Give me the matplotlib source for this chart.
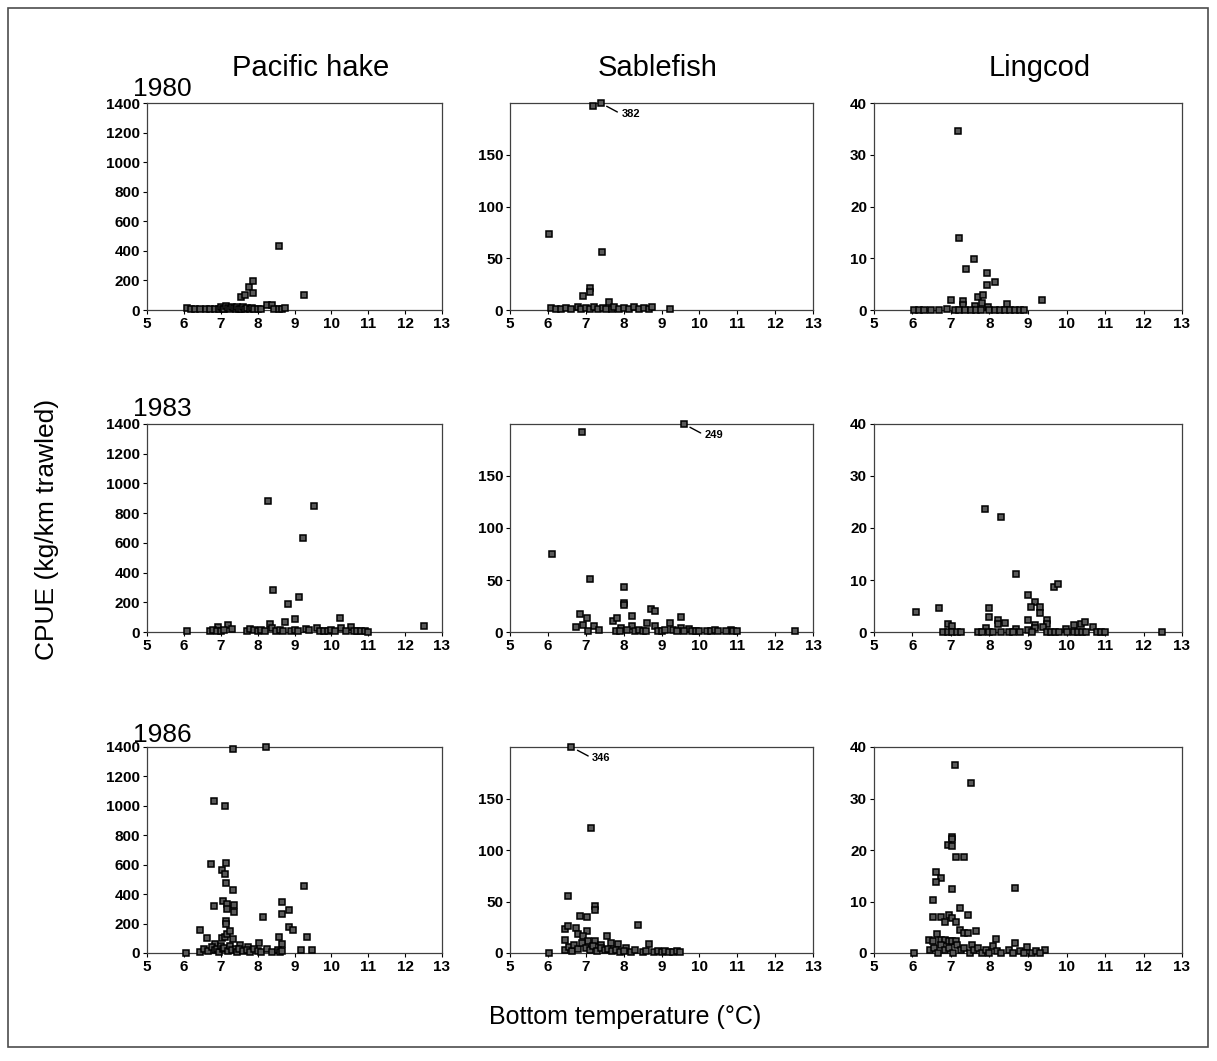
import numpy as np
import matplotlib
matplotlib.use('Agg')
import matplotlib.pyplot as plt
from matplotlib.patches import Rectangle

plt.rcParams['font.family'] = ['Liberation Sans', 'DejaVu Sans']

# Species / years
species = ['Pacific hake', 'Sablefish', 'Lingcod']
years = ['1980', '1983', '1986']

# Bottom temperature (C) and CPUE (kg/km trawled), one pair of lists per panel
# ---- 1980 ----
hake80_t = [6.08, 6.2, 6.3, 6.45, 6.6, 6.7, 6.85, 6.95, 7.0, 7.05, 7.1, 7.15, 7.2, 7.25, 7.3,
            7.35, 7.4, 7.45, 7.5, 7.55, 7.6, 7.65, 7.7, 7.8, 7.85, 7.9, 8.0, 8.1, 8.25, 8.39,
            8.45, 8.57, 8.65, 8.75, 7.56, 7.67, 7.76, 7.87, 7.88, 8.57, 9.27]
hake80_c = [12, 5, 4, 4, 4, 4, 4, 8, 20, 10, 4, 25, 15, 8, 22,
            12, 4, 18, 8, 4, 20, 5, 12, 8, 15, 4, 6, 4, 34, 34,
            8, 10, 4, 15, 86, 102, 154, 195, 115, 433, 102]

sable80_t = [6.03, 7.2, 7.39, 7.42, 6.92, 7.12, 7.12, 7.62,
             6.09, 6.22, 6.35, 6.49, 6.62, 6.79, 6.88, 7.01, 7.1, 7.23, 7.32, 7.45, 7.53,
             7.7, 7.75, 7.88, 8.02, 8.15, 8.28, 8.41, 8.54, 8.67, 8.76, 9.22]
sable80_c = [73, 197, 382, 56, 14, 21, 17, 7.5,
             2, 1, 1, 2, 1, 3, 1, 2, 1, 3, 1, 2, 1,
             1, 3, 1, 2, 1, 3, 1, 2, 1, 3, 0.5]

ling80_t = [7.18, 7.2, 7.4, 7.61, 7.93, 7.93, 8.14, 7.0, 7.32, 7.32, 7.71, 7.82, 7.8, 7.62,
            7.96, 8.45, 9.37,
            6.04, 6.16, 6.29, 6.48, 6.69, 6.89, 7.1, 7.22, 7.36, 7.51, 7.64, 7.77, 7.99, 8.13,
            8.26, 8.39, 8.52, 8.65, 8.79, 8.9]
ling80_c = [34.5, 14, 7.9, 9.9, 7.2, 4.9, 5.5, 2.0, 1.8, 1.0, 2.5, 2.9, 1.4, 0.8,
            0.65, 1.1, 2.0,
            0, 0, 0, 0, 0, 0.1, 0, 0, 0, 0, 0, 0, 0, 0,
            0, 0, 0, 0, 0, 0]

# ---- 1983 ----
hake83_t = [6.09, 8.27, 9.52, 9.22, 8.43, 8.82, 9.13, 9.02, 8.73, 10.23, 12.52, 7.2, 6.93,
            8.34, 10.25, 10.54,
            6.7, 6.8, 6.9, 7.0, 7.1, 7.3, 7.7, 7.8, 7.9, 8.0, 8.1, 8.2, 8.4, 8.5, 8.6, 8.7,
            8.9, 9.0, 9.1, 9.3, 9.4, 9.6, 9.7, 9.8, 9.9, 10.0, 10.1, 10.4, 10.6, 10.7, 10.8,
            10.9, 11.0]
hake83_c = [5, 882, 848, 633, 281, 190, 235, 90, 70, 95, 38, 45, 32,
            54, 27, 36,
            5, 15, 10, 8, 12, 20, 10, 18, 12, 6, 15, 10, 25, 8, 12, 6,
            10, 15, 8, 18, 12, 25, 10, 8, 6, 12, 5, 8, 5, 4, 6,
            4, 3]

sable83_t = [6.91, 9.59, 6.12, 7.12, 8.02, 8.02, 8.02, 6.84, 7.03, 6.73, 6.94, 7.23, 7.34,
             7.71, 7.82, 8.22, 7.93, 8.23, 8.63, 8.73, 8.83, 8.83, 9.22, 9.52, 9.52, 9.72,
             10.84, 12.52,
             7.05, 7.8, 7.9, 8.1, 8.3, 8.4, 8.5, 8.6, 8.9, 9.0, 9.1, 9.3, 9.4, 9.6, 9.8, 9.9,
             10.0, 10.2, 10.3, 10.4, 10.5, 10.7, 10.9, 11.0]
sable83_c = [192.6, 249, 75, 51, 43, 28, 26, 17.5, 13, 4.5, 6.5, 5.5, 2.3,
             10.4, 13.6, 15.2, 4, 6, 8.8, 22, 20, 5.5, 8.4, 14.6, 4, 3,
             2.3, 0.6,
             0.5, 1, 0.5, 1.5, 0.5, 2, 1, 0.5, 1, 0.5, 1.5, 2, 1, 0.5, 1, 0.5,
             1, 0.5, 1, 2, 1, 0.5, 1, 0.5]

ling83_t = [6.1, 6.7, 7.89, 8.29, 8.69, 9.68, 9.78, 9.0, 9.19, 9.08, 9.3, 9.3, 7.99, 7.99,
            8.21, 8.21, 8.4, 9.0, 9.19, 9.19, 9.49, 9.49, 9.4, 10.19, 10.38, 10.48, 10.68,
            6.91, 7.02, 7.91, 8.69, 9.0, 9.98, 12.49,
            6.79, 6.91, 7.03, 7.15, 7.27, 7.7, 7.8, 8.0, 8.1, 8.3, 8.5, 8.6, 8.8, 9.1, 9.5,
            9.6, 9.7, 9.8, 10.0, 10.2, 10.3, 10.4, 10.5, 10.8, 10.9, 11.0]
ling83_c = [3.9, 4.7, 23.7, 22.1, 11.2, 8.7, 9.2, 7.1, 5.8, 4.9, 4.9, 3.6, 4.7, 2.8,
            2.4, 1.6, 1.75, 2.4, 1.4, 0.8, 2.4, 1.6, 1.0, 1.4, 1.6, 2.0, 1.0,
            1.6, 1.1, 0.8, 0.6, 0.45, 0.6, 0,
            0, 0, 0, 0, 0, 0, 0, 0, 0, 0, 0, 0, 0, 0, 0,
            0, 0, 0, 0, 0, 0, 0, 0, 0, 0, 0]

# ---- 1986 ----
hake86_t = [6.05, 7.32, 8.24, 6.82, 7.12, 6.73, 7.14, 7.03, 7.12, 7.14, 7.33, 9.27, 7.05,
            6.82, 7.16, 7.18, 7.35, 7.35, 8.65, 8.66, 8.85, 8.15, 8.85, 8.96, 7.14, 7.14,
            6.45, 6.64, 6.85, 7.03, 7.12, 7.16, 7.25, 7.32, 7.53, 7.75, 8.05, 8.57, 8.66,
            9.35, 9.18, 9.48,
            6.45, 6.55, 6.65, 6.75, 6.85, 6.9, 6.95, 7.0, 7.05, 7.1, 7.2, 7.25, 7.3, 7.4,
            7.45, 7.5, 7.6, 7.7, 7.8, 7.9, 8.0, 8.1, 8.25, 8.4, 8.55, 8.6, 8.65]
hake86_c = [0, 1386, 1398, 1033, 1002, 608, 612, 562, 539, 476, 426, 455, 353,
            319, 335, 300, 328, 278, 346, 266, 289, 248, 180, 153, 219, 198,
            153, 100, 61, 100, 107, 130, 152, 96, 57, 43, 66, 112, 61,
            112, 20, 20,
            10, 25, 15, 40, 20, 30, 10, 45, 25, 35, 15, 50, 20, 30,
            10, 25, 15, 20, 10, 30, 15, 5, 25, 10, 20, 5, 15]

sable86_t = [6.04, 6.62, 7.13, 6.53, 6.84, 7.04, 7.24, 7.24, 8.37, 6.46, 6.53, 6.75, 7.04,
             7.55, 7.66, 7.86, 8.68, 6.46, 6.8, 6.93, 7.06, 7.24, 7.39, 8.06,
             6.45, 6.55, 6.65, 6.7, 6.8, 6.9, 7.0, 7.1, 7.2, 7.3, 7.4, 7.5, 7.6, 7.7, 7.8,
             7.9, 8.0, 8.2, 8.3, 8.5, 8.6, 8.8, 8.9, 9.0, 9.1, 9.2, 9.3, 9.4, 9.5]
sable86_c = [0, 346, 121, 55, 36, 35, 46, 42, 27.5, 23.7, 26, 24, 21.7,
             16.9, 9.7, 9.0, 8.7, 12.3, 18.5, 16.2, 11.3, 11.3, 7.5, 4.9,
             3, 6, 2, 8, 4, 10, 5, 3, 7, 2, 5, 3, 4, 2, 3,
             1, 2, 1, 3, 1, 2, 1, 2, 1, 2, 1, 1, 2, 1]

ling86_t = [6.03, 7.11, 7.53, 7.03, 7.03, 6.92, 7.03, 7.12, 7.33, 6.62, 6.73, 6.62, 7.03,
            8.66, 6.53, 6.53, 6.73, 6.84, 6.94, 7.03, 7.14, 7.24, 7.45, 7.24, 7.34, 7.45,
            7.64, 6.64, 6.43, 6.53, 6.73, 6.84, 6.94, 7.03, 7.12, 8.16, 8.66, 7.55, 8.09,
            8.97, 9.45,
            6.45, 6.55, 6.65, 6.75, 6.85, 6.95, 7.05, 7.15, 7.25, 7.35, 7.5, 7.6, 7.7, 7.8,
            7.9, 8.0, 8.2, 8.3, 8.5, 8.6, 8.8, 8.9, 9.1, 9.2, 9.3]
ling86_c = [0, 36.6, 33, 22.6, 22.2, 21, 20.7, 18.7, 18.7, 15.8, 14.5, 13.8, 12.5,
            12.6, 10.3, 7.0, 7.0, 6.0, 7.35, 6.7, 6.0, 8.8, 7.35, 4.55, 3.8, 3.8,
            4.2, 3.6, 2.6, 2.4, 2.6, 2.6, 2.3, 2.3, 2.3, 2.8, 2.0, 1.6, 1.3,
            1.1, 0.6,
            0.5, 1, 0, 1.5, 0.5, 1, 0, 1.5, 0.5, 1, 0, 0.5, 1, 0,
            0.5, 0, 0.3, 0, 0.5, 0, 0.3, 0, 0, 0.3, 0]

panels = [[(hake80_t, hake80_c), (sable80_t, sable80_c), (ling80_t, ling80_c)],
          [(hake83_t, hake83_c), (sable83_t, sable83_c), (ling83_t, ling83_c)],
          [(hake86_t, hake86_c), (sable86_t, sable86_c), (ling86_t, ling86_c)]]

# y axis ranges / ticks per species
ymax = [1400, 200, 40]
yticks = [np.arange(0, 1401, 200), [0, 50, 100, 150], [0, 10, 20, 30, 40]]
xticks = np.arange(5, 14)

# Figure layout (pixel positions of the panels)
W, H = 1217, 1061
fig = plt.figure(figsize=(W / 100, H / 100), dpi=100)
col_l = [147, 510, 874]
col_r = [442, 813, 1182]
row_t = [103, 424, 747]
row_b = [310, 632, 953]

for i in range(3):
    for j in range(3):
        ax = fig.add_axes([col_l[j] / W, 1 - row_b[i] / H,
                           (col_r[j] - col_l[j]) / W, (row_b[i] - row_t[i]) / H])
        t, c = panels[i][j]
        c = np.array(c, dtype=float)
        top = ymax[j]
        ax.plot(t, np.minimum(c, top), ls='none', marker='s', ms=4.8,
                mfc='0.35', mec='k', mew=1.1, clip_on=False, zorder=3)
        # off-scale values are written next to the point
        for tt, cc in zip(t, c):
            if cc > top:
                ax.annotate(f'{cc:.0f}', xy=(tt, top), xytext=(15, -8),
                            textcoords='offset points', ha='left', va='center',
                            fontsize=8, fontweight='bold',
                            arrowprops=dict(arrowstyle='-', lw=1, color='k',
                                            shrinkA=1, shrinkB=5, relpos=(0, 0.5)))
        ax.set_xlim(5, 13)
        ax.set_ylim(0, top)
        ax.set_xticks(xticks)
        ax.set_yticks(yticks[j])
        ax.tick_params(labelsize=11, length=3, width=0.8, pad=2)
        for lab in ax.get_xticklabels() + ax.get_yticklabels():
            lab.set_fontweight('bold')
        for sp in ax.spines.values():
            sp.set_linewidth(0.9)
            sp.set_color('0.25')

# species titles and year labels
title_x = [311, 658, 1040]
for j in range(3):
    fig.text(title_x[j] / W, 1 - 76 / H, species[j], fontsize=21,
             ha='center', va='baseline')
year_base = [96, 416, 742]
for i in range(3):
    fig.text(133 / W, 1 - year_base[i] / H, years[i], fontsize=19,
             ha='left', va='baseline')

fig.text(47 / W, 1 - 529 / H, 'CPUE (kg/km trawled)', fontsize=19,
         rotation=90, ha='center', va='center')
fig.text(625 / W, 1 - 1017 / H, 'Bottom temperature (\u00b0C)', fontsize=18,
         ha='center', va='center')

# outer frame
fig.add_artist(Rectangle((8 / W, 1 - 1047 / H), 1200 / W, 1039 / H,
                         transform=fig.transFigure, fill=False, lw=1.2, ec='0.3'))

fig.savefig('out.png', dpi=100)
